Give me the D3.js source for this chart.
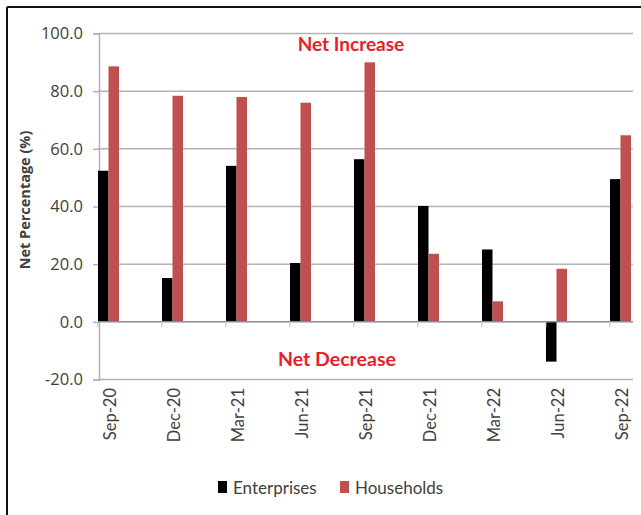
<!DOCTYPE html>
<html>
<head>
<meta charset="utf-8">
<script src="https://cdn.jsdelivr.net/npm/d3@7"></script>
<style>
  body { margin: 0; background: #fff; }
  text { font-family: Lato, "Open Sans", sans-serif; }
</style>
</head>
<body>
<div id="chart"></div>
<script>
var quarters = ["Sep-20", "Dec-20", "Mar-21", "Jun-21", "Sep-21", "Dec-21", "Mar-22", "Jun-22", "Sep-22"];
var enterprises = [52.4, 15.2, 54.1, 20.4, 56.4, 40.2, 25.1, -13.8, 49.5];
var households = [88.6, 78.4, 78.0, 76.0, 90.0, 23.6, 7.1, 18.4, 64.7];
var yTicks = [-20, 0, 20, 40, 60, 80, 100];
var seriesNames = ["Enterprises", "Households"];
var seriesColors = ["#000000", "#c0504d"];

var width = 641, height = 515;
var plotLeft = 98, plotRight = 633;

var svg = d3.select("#chart").append("svg")
  .attr("width", width)
  .attr("height", height);

// frame of the figure box
svg.append("line").attr("x1", 7).attr("x2", width).attr("y1", 7).attr("y2", 7)
  .attr("stroke", "#111").attr("stroke-width", 2);
svg.append("line").attr("x1", 7).attr("x2", 7).attr("y1", 7).attr("y2", height)
  .attr("stroke", "#111").attr("stroke-width", 2);

var y = d3.scaleLinear().domain([-20, 100]).range([379.5, 33.5]);

// each band is 64px wide, bars sit at the start of the band
var x = d3.scaleBand().domain(quarters)
  .range([plotLeft, plotLeft + 64 * quarters.length])
  .paddingInner(0).paddingOuter(0);
var barW = 10.5;

// gridlines
svg.append("g").selectAll("line")
  .data(yTicks.filter(function (d) { return d !== 0; }))
  .enter().append("line")
  .attr("x1", plotLeft).attr("x2", plotRight)
  .attr("y1", function (d) { return y(d); })
  .attr("y2", function (d) { return y(d); })
  .attr("stroke", "#b3b3b3").attr("stroke-width", 1.5);

// y axis (plain hyphen for negatives, like the source)
var fmt = d3.format(".1f");
var yAxis = svg.append("g")
  .attr("transform", "translate(" + (plotLeft + 1) + ",0)")
  .call(d3.axisLeft(y).tickValues(yTicks)
    .tickFormat(function (d) { return fmt(d).replace("\u2212", "-"); })
    .tickSize(6).tickPadding(10));
yAxis.select(".domain").attr("stroke", "#b3b3b3").attr("stroke-width", 1.5);
yAxis.selectAll(".tick line").attr("stroke", "#b3b3b3").attr("stroke-width", 1.5);
yAxis.selectAll("text").attr("font-size", 16.5).attr("fill", "#404040")
  .style("font-family", "'Open Sans', sans-serif");

// bars
var groups = svg.append("g").selectAll("g")
  .data(quarters)
  .enter().append("g")
  .attr("transform", function (d) { return "translate(" + x(d) + ",0)"; });

[enterprises, households].forEach(function (vals, s) {
  groups.append("rect")
    .attr("x", s * barW)
    .attr("width", barW)
    .attr("y", function (d, i) { return y(Math.max(0, vals[i])); })
    .attr("height", function (d, i) { return Math.abs(y(vals[i]) - y(0)); })
    .attr("fill", seriesColors[s]);
});

// zero line and category ticks
svg.append("line")
  .attr("x1", plotLeft).attr("x2", plotRight)
  .attr("y1", y(0)).attr("y2", y(0))
  .attr("stroke", "#8c8c8c").attr("stroke-width", 1.5);
svg.append("g").selectAll("line")
  .data(quarters)
  .enter().append("line")
  .attr("x1", function (d) { return x(d); })
  .attr("x2", function (d) { return x(d); })
  .attr("y1", y(0)).attr("y2", y(0) + 5)
  .attr("stroke", "#b3b3b3").attr("stroke-width", 1);

// category labels
svg.append("g").selectAll("text")
  .data(quarters)
  .enter().append("text")
  .attr("transform", function (d) { return "translate(" + (x(d) + 12) + ",388) rotate(-90)"; })
  .attr("text-anchor", "end")
  .attr("dominant-baseline", "central")
  .attr("font-size", 16.5)
  .attr("fill", "#404040")
  .text(function (d) { return d; });

// y title
svg.append("text")
  .attr("transform", "translate(24,200) rotate(-90)")
  .attr("text-anchor", "middle")
  .attr("dominant-baseline", "central")
  .attr("font-size", 14.5)
  .attr("font-weight", "bold")
  .attr("fill", "#404040")
  .style("font-family", "'Open Sans', sans-serif")
  .text("Net Percentage (%)");

// annotations
svg.append("text")
  .attr("x", 351).attr("y", 43)
  .attr("text-anchor", "middle").attr("dominant-baseline", "central")
  .attr("font-size", 19).attr("font-weight", "bold").attr("fill", "#e8202a")
  .text("Net Increase");
svg.append("text")
  .attr("x", 337).attr("y", 358)
  .attr("text-anchor", "middle").attr("dominant-baseline", "central")
  .attr("font-size", 19.5).attr("font-weight", "bold").attr("fill", "#e8202a")
  .text("Net Decrease");

// legend
var legendX = [218, 340];
var legend = svg.append("g").selectAll("g")
  .data(seriesNames)
  .enter().append("g")
  .attr("transform", function (d, i) { return "translate(" + legendX[i] + ",487)"; });
legend.append("rect")
  .attr("x", 0).attr("y", -6).attr("width", 9).attr("height", 12)
  .attr("fill", function (d, i) { return seriesColors[i]; });
legend.append("text")
  .attr("x", 15).attr("y", 0)
  .attr("dominant-baseline", "central")
  .attr("font-size", 17)
  .attr("fill", "#404040")
  .text(function (d) { return d; });
</script>
</body>
</html>
